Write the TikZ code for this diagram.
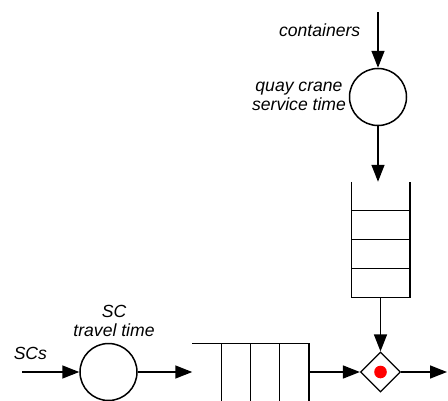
\documentclass[tikz,border=0pt]{standalone}
\usepackage{fontspec}
\setmainfont{Liberation Sans}
\usetikzlibrary{arrows.meta,shapes.geometric,calc}
\begin{document}
\begin{tikzpicture}[x=1pt,y=-1pt,
  line width=1.5pt,
  flow/.style={-{Triangle[length=17pt,width=13pt]}},
  server/.style={circle,draw,minimum size=57pt,inner sep=0pt},
  gate/.style={diamond,draw,minimum width=40pt,minimum height=40pt,inner sep=0pt,aspect=1,line width=1.2pt},
  lbl/.style={font=\fontsize{17.6}{18.5}\selectfont\itshape,inner sep=0pt,align=center},
  qbox/.style={inner sep=0pt}
]
\useasboundingbox (0,0) rectangle (448,400);
\clip (0,0) rectangle (448,400);
\fill[white] (0,0) rectangle (448,400);

% nodes
\node[server] (qc) at (378,97) {};
\node[qbox,minimum width=57pt,minimum height=114pt] (vq) at (380.5,239.5) {};
\draw (vq.north west) -- (vq.south west) -- (vq.south east) -- (vq.north east);
\foreach \f in {0.25,0.5,0.75}
  \draw ($(vq.north west)!\f!(vq.south west)$) -- ($(vq.north east)!\f!(vq.south east)$);
\node[gate] (mg) at (380.5,372) {};
\fill[red] (mg.center) circle (6.3pt);
\node[server] (sc) at (108.5,372) {};
\node[qbox,minimum width=115pt,minimum height=57pt] (hq) at (250.5,372.5) {};
\draw (hq.north west) -- (hq.north east) -- (hq.south east) -- (hq.south west);
\foreach \f in {0.25,0.5,0.75}
  \draw ($(hq.north west)!\f!(hq.north east)$) -- ($(hq.south west)!\f!(hq.south east)$);

\coordinate (cin) at (378,12);
\coordinate (scin) at (22,372);
\coordinate (out) at (447,372);

% connectors
\draw[flow] (cin) -- (qc.north);
\draw[flow] (qc.south) -- (qc.south |- vq.north);
\draw[flow] (vq.south) -- (mg.north);
\draw[flow] (scin) -- (sc.west);
\draw[flow] (sc.east) -- (sc.east -| hq.west);
\draw[flow] (hq.east |- mg.west) -- (mg.west);
\draw[flow] (mg.east) -- (out);

% labels
\node[lbl,anchor=base east] (lc) at (361,36) {containers};
\node[lbl] (lq) at (299,96.5) {quay crane\\service time};
\node[lbl] (ls) at (114,321) {SC\\travel time};
\node[lbl,anchor=base west] (lsc) at (13,359) {SCs};
\end{tikzpicture}
\end{document}
